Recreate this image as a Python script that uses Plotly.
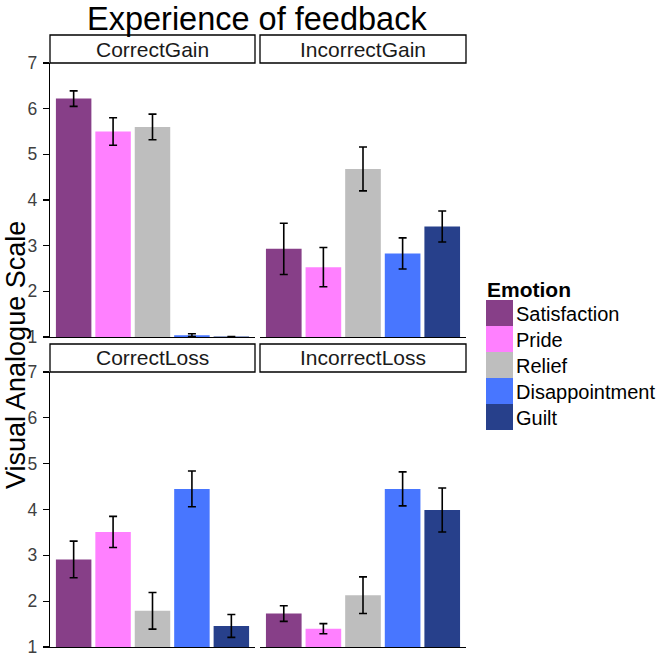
import plotly.graph_objects as go

# ---- data ----
emotions = ["Satisfaction", "Pride", "Relief", "Disappointment", "Guilt"]
colors = ["#873F88", "#FF80FF", "#BEBEBE", "#4876FF", "#27408B"]
panels = ["CorrectGain", "IncorrectGain", "CorrectLoss", "IncorrectLoss"]

correct_gain = [6.22, 5.50, 5.60, 1.04, 1.01]
correct_gain_se = [0.17, 0.30, 0.28, 0.03, 0.0]
incorrect_gain = [2.93, 2.53, 4.68, 2.83, 3.42]
incorrect_gain_se = [0.56, 0.43, 0.48, 0.34, 0.34]
correct_loss = [2.91, 3.51, 1.79, 4.45, 1.46]
correct_loss_se = [0.40, 0.34, 0.40, 0.39, 0.25]
incorrect_loss = [1.73, 1.40, 2.13, 4.45, 3.99]
incorrect_loss_se = [0.17, 0.11, 0.40, 0.37, 0.48]

values = [correct_gain, incorrect_gain, correct_loss, incorrect_loss]
errors = [correct_gain_se, incorrect_gain_se, correct_loss_se, incorrect_loss_se]

W, H = 666, 659
FONT = "Liberation Sans, Arial, sans-serif"


def px_x(p):
    return p / W


def px_y(p):
    return 1 - p / H


# panel geometry (pixels in the final screenshot)
cols = [(50, 255), (260, 466)]
rows = [(63, 337), (372, 647)]
strips = [(35, 63), (344, 372)]

fig = go.Figure()
shapes = []
annotations = []

for i, name in enumerate(panels):
    r, c = divmod(i, 2)
    idx = "" if i == 0 else str(i + 1)
    xa, ya = "x" + idx, "y" + idx
    fig.add_trace(go.Bar(
        x=emotions, y=values[i],
        marker=dict(color=colors, line=dict(width=0)),
        error_y=dict(type="data", array=errors[i], color="black",
                     thickness=1.6, width=4),
        width=0.9, xaxis=xa, yaxis=ya, showlegend=False,
    ))
    x0, x1 = cols[c]
    y0, y1 = rows[r]
    fig.layout["xaxis" + idx] = dict(
        domain=[px_x(x0), px_x(x1)], anchor=ya, range=[-0.6, 4.6],
        showline=True, linecolor="black", linewidth=1.3,
        showticklabels=False, ticks="", showgrid=False, zeroline=False,
        fixedrange=True, automargin=False,
    )
    ydict = dict(
        domain=[px_y(y1), px_y(y0)], anchor=xa, range=[1, 7],
        tickvals=[1, 2, 3, 4, 5, 6, 7], showgrid=False, zeroline=False,
        fixedrange=True, automargin=False,
    )
    if c == 0:
        ydict.update(showline=True, linecolor="black", linewidth=1.3,
                     ticks="outside", ticklen=6, tickcolor="black",
                     tickwidth=1.2, ticklabelstandoff=2,
                     tickfont=dict(size=17.5, color="#404040", family=FONT))
    else:
        ydict.update(showline=False, showticklabels=False, ticks="")
    fig.layout["yaxis" + idx] = ydict

    # strip
    s0, s1 = strips[r]
    shapes.append(dict(type="rect", xref="paper", yref="paper",
                       x0=px_x(x0), x1=px_x(x1), y0=px_y(s1), y1=px_y(s0),
                       line=dict(color="black", width=1.3),
                       fillcolor="white", layer="above"))
    annotations.append(dict(x=px_x((x0 + x1) / 2), y=px_y((s0 + s1) / 2),
                            xref="paper", yref="paper", text=name,
                            showarrow=False, xanchor="center", yanchor="middle",
                            font=dict(size=21, color="#1a1a1a", family=FONT)))

# title
annotations.append(dict(x=px_x(257), y=px_y(19), xref="paper", yref="paper",
                        text="Experience of feedback", showarrow=False,
                        xanchor="center", yanchor="middle",
                        font=dict(size=32.5, color="black", family=FONT)))
# y axis title
annotations.append(dict(x=px_x(16), y=px_y(355), xref="paper", yref="paper",
                        text="Visual Analogue Scale", showarrow=False,
                        textangle=-90, xanchor="center", yanchor="middle",
                        font=dict(size=27, color="black", family=FONT)))

# custom legend
annotations.append(dict(x=px_x(485), y=px_y(289), xref="paper", yref="paper",
                        text="<b>Emotion</b>", showarrow=False,
                        xanchor="left", yanchor="middle",
                        font=dict(size=21, color="black", family=FONT)))
key_top, key_h = 300, 26
for k, (em, col) in enumerate(zip(emotions, colors)):
    ky0 = key_top + k * key_h
    shapes.append(dict(type="rect", xref="paper", yref="paper",
                       x0=px_x(486), x1=px_x(513),
                       y0=px_y(ky0 + key_h), y1=px_y(ky0),
                       line=dict(width=0), fillcolor=col))
    annotations.append(dict(x=px_x(514), y=px_y(ky0 + key_h / 2 + 1),
                            xref="paper", yref="paper", text=em,
                            showarrow=False, xanchor="left", yanchor="middle",
                            font=dict(size=20, color="black", family=FONT)))

fig.update_layout(
    width=W, height=H, margin=dict(l=0, r=0, t=0, b=0, autoexpand=False),
    paper_bgcolor="white", plot_bgcolor="white",
    shapes=shapes, annotations=annotations, showlegend=False,
    bargap=0.1, hovermode=False,
)

fig.write_html("out.html",
               config={"displayModeBar": False, "staticPlot": True},
               post_script="document.body.style.margin='0px';"
                           "document.body.style.padding='0px';")
